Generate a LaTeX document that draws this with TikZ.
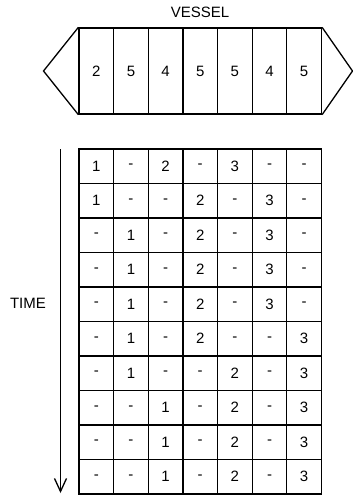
\documentclass[tikz,border=0pt]{standalone}
\usepackage{fontspec}
\setmainfont{Liberation Sans}
\usetikzlibrary{arrows.meta}
\begin{document}
\begin{tikzpicture}[x=1pt,y=-1pt,line width=1.3pt,
  txt/.style={font=\fontsize{15}{18}\selectfont},
  vcell/.style={draw,txt,minimum width=34.64pt,minimum height=86pt,inner sep=0pt},
  tcell/.style={draw,txt,minimum width=34.64pt,minimum height=34.5pt,inner sep=0pt},
  lbl/.style={txt,inner sep=0pt}]
\useasboundingbox (0,0) rectangle (353,496);
\node[lbl] (vessel) at (200,12) {VESSEL};
\foreach \v [count=\c] in {2,5,4,5,5,4,5}
  \node[vcell] (v\c) at ({79+34.64*(\c-0.5)},71) {\v};
\coordinate (lt) at (43.5,71);
\coordinate (rt) at (352.5,71);
\draw[line join=miter] (v1.north west) -- (lt) -- (v1.south west);
\draw[line join=miter] (v7.north east) -- (rt) -- (v7.south east);
\foreach \row [count=\r] in {{1,-,2,-,3,-,-},{1,-,-,2,-,3,-},{-,1,-,2,-,3,-},{-,1,-,2,-,3,-},{-,1,-,2,-,3,-},{-,1,-,2,-,-,3},{-,1,-,-,2,-,3},{-,-,1,-,2,-,3},{-,-,1,-,2,-,3},{-,-,1,-,2,-,3}}
  \foreach \v [count=\c] in \row
    \node[tcell] (t-\r-\c) at ({79+34.64*(\c-0.5)},{149+34.5*(\r-0.5)}) {\v};
\node[lbl] (time) at (28,303) {TIME};
\coordinate (ts) at (60.5,149);
\coordinate (te) at (60.5,493);
\draw[-{Straight Barb[length=13pt,width=12pt]}] (ts) -- (te);
\end{tikzpicture}
\end{document}
